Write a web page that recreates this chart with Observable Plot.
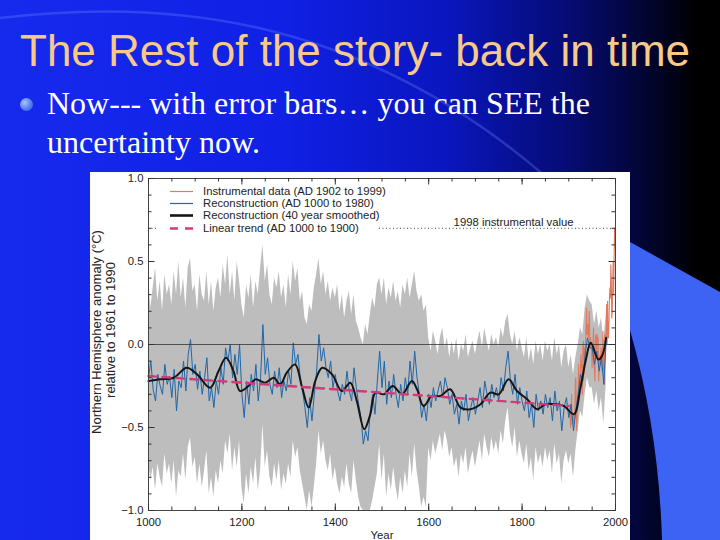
<!DOCTYPE html>
<html><head><meta charset="utf-8">
<script src="https://cdn.jsdelivr.net/npm/d3@7"></script>
<script src="https://cdn.jsdelivr.net/npm/@observablehq/plot@0.6"></script>
<style>
html,body{margin:0;padding:0;}
body{width:720px;height:540px;overflow:hidden;position:relative;
 background:linear-gradient(90deg,rgb(22,42,238) 0%,rgb(16,32,228) 40%,rgb(10,22,190) 62%,rgb(6,12,120) 78%,rgb(3,6,60) 88%,#000 97%);
 font-family:"Liberation Sans",Arial,sans-serif;}
#deco{position:absolute;left:0;top:0;}
#title{position:absolute;left:20px;top:29px;font-size:44px;line-height:44px;color:#f8ca8a;white-space:nowrap;}
#bullet{position:absolute;left:20px;top:98px;width:13px;height:13px;border-radius:50%;
 background:radial-gradient(circle at 35% 35%,#a8c2ff,#4f78f0 60%,#3358dc);}
#text{position:absolute;left:47px;top:84px;font-family:"Liberation Serif","Times New Roman",serif;font-size:32px;line-height:38.5px;color:#fff;white-space:nowrap;}
#panel{position:absolute;left:90px;top:172px;width:540px;height:368px;background:#fff;overflow:hidden;}
#legend{position:absolute;left:68px;top:13px;width:219px;height:50px;background:#fff;}
.row{position:absolute;left:0;height:12.2px;line-height:12.2px;font-size:11.3px;color:#222;white-space:nowrap;}
.row svg{position:absolute;left:12px;top:0;}
.row span{position:absolute;left:45px;top:0;}
.ytitle{position:absolute;width:240px;height:16px;line-height:16px;font-size:13px;color:#222;text-align:center;transform:rotate(-90deg);transform-origin:50% 50%;white-space:nowrap;}
</style></head>
<body>
<svg id="deco" width="720" height="540">
 <path d="M0,18 C150,0 350,8 545,176" fill="none" stroke="rgba(120,150,255,0.28)" stroke-width="2.5"/>
 <path d="M630,242 L720,292 L720,540 L662,540 C660,470 650,400 630,330 Z" fill="#3d63f5"/>
</svg>
<div id="title">The Rest of the story- back in time</div>
<div id="bullet"></div>
<div id="text">Now--- with error bars… you can SEE the<br>uncertainty now.</div>
<div id="panel">
 <div id="chart"></div>
 <div class="ytitle" style="left:-113px;top:152px;">Northern Hemisphere anomaly (°C)</div>
 <div class="ytitle" style="left:-99px;top:150px;">relative to 1961 to 1990</div>
 <div id="legend"></div>
</div>
<script>
// ---- data ----
const reconStart = 1000, reconStep = 5;
const reconValues = [
 -0.20,-0.10,-0.27,-0.34,-0.18,-0.25,-0.30,-0.12,-0.24,-0.19,
 -0.32,-0.15,-0.40,-0.22,-0.26,-0.10,-0.28,-0.06,0.03,-0.18,
 -0.12,-0.27,-0.16,-0.30,-0.20,-0.08,-0.34,-0.26,-0.38,-0.22,
 -0.30,-0.14,-0.24,-0.02,-0.10,0.00,-0.20,-0.06,-0.18,0.00,
 -0.30,-0.44,-0.22,-0.36,-0.18,-0.28,-0.12,-0.34,-0.20,0.12,
 -0.18,-0.08,-0.24,-0.30,-0.16,-0.26,-0.14,-0.32,-0.22,-0.28,
 -0.16,-0.24,0.01,-0.12,-0.06,-0.20,-0.28,-0.38,-0.50,-0.32,
 -0.46,-0.30,-0.16,0.06,-0.10,-0.02,-0.14,-0.20,-0.10,-0.26,
 -0.18,-0.28,-0.34,-0.24,-0.30,-0.16,-0.28,-0.34,-0.14,-0.26,
 -0.36,-0.44,-0.60,-0.52,-0.58,-0.40,-0.30,-0.42,-0.22,-0.04,
 -0.26,-0.10,-0.36,-0.22,-0.32,-0.18,-0.30,-0.38,-0.24,-0.34,
 -0.20,-0.30,-0.10,-0.24,-0.04,-0.20,-0.30,-0.44,-0.36,-0.46,
 -0.30,-0.38,-0.26,-0.34,-0.28,-0.22,-0.32,-0.20,-0.26,-0.36,
 -0.30,-0.42,-0.36,-0.48,-0.34,-0.40,-0.30,-0.46,-0.38,-0.32,
 -0.42,-0.34,-0.26,-0.38,-0.22,-0.30,-0.36,-0.24,-0.32,-0.26,
 -0.34,-0.20,-0.28,-0.14,-0.04,-0.22,-0.30,-0.18,-0.36,-0.26,
 -0.34,-0.40,-0.28,-0.44,-0.36,-0.50,-0.30,-0.40,-0.34,-0.42,
 -0.30,-0.38,-0.32,-0.46,-0.28,-0.40,-0.34,-0.52,-0.38,-0.32,
 -0.44,-0.36,-0.52,-0.40,-0.30,-0.18,-0.22,-0.06,0.04,-0.02,
 -0.02,-0.12,-0.04,-0.16,-0.08,-0.24,0.02
];
const bandStart = 1000, bandStep = 5;
const bandUpper = [
 0.40,0.22,0.34,0.46,0.26,0.38,0.20,0.42,0.30,0.36,
 0.24,0.44,0.30,0.50,0.28,0.40,0.22,0.46,0.52,0.32,
 0.36,0.20,0.42,0.30,0.26,0.44,0.24,0.38,0.20,0.34,
 0.40,0.28,0.48,0.36,0.54,0.30,0.44,0.26,0.50,0.38,
 0.24,0.16,0.36,0.28,0.42,0.22,0.38,0.30,0.46,0.60,
 0.38,0.48,0.30,0.24,0.40,0.34,0.44,0.28,0.36,0.22,
 0.42,0.30,0.50,0.38,0.46,0.26,0.32,0.16,0.12,0.24,
 0.20,0.34,0.42,0.52,0.36,0.44,0.30,0.38,0.26,0.34,
 0.28,0.36,0.20,0.30,0.16,0.26,0.32,0.18,0.30,0.14,
 0.10,0.04,0.00,0.12,0.06,0.18,0.28,0.22,0.36,0.40,
 0.30,0.40,0.24,0.34,0.28,0.38,0.26,0.32,0.22,0.36,
 0.30,0.40,0.28,0.36,0.44,0.32,0.26,0.30,0.20,0.24,
 0.04,-0.04,0.08,0.02,-0.06,0.04,0.10,-0.02,0.04,-0.08,
 0.02,-0.06,0.04,-0.10,0.00,-0.04,0.06,-0.08,-0.02,0.02,
 -0.06,0.02,0.08,-0.02,0.10,0.02,-0.04,0.06,0.00,0.04,
 -0.02,0.10,0.04,0.14,0.18,0.06,0.00,0.08,-0.04,0.04,
 -0.02,-0.08,0.04,-0.10,-0.02,-0.12,0.02,-0.06,0.00,-0.10,
 0.02,-0.04,0.00,-0.10,0.04,-0.06,0.00,-0.14,-0.04,0.00,
 -0.14,-0.06,-0.18,-0.08,0.00,0.10,0.06,0.22,0.30,0.26,
 0.24,0.12,0.20,0.10,0.16,0.02,0.18
];
const bandLower = [
 -0.70,-0.82,-0.74,-0.88,-0.72,-0.80,-0.86,-0.66,-0.78,-0.72,
 -0.84,-0.70,-0.92,-0.76,-0.80,-0.66,-0.82,-0.62,-0.56,-0.74,
 -0.68,-0.84,-0.72,-0.86,-0.76,-0.64,-0.90,-0.80,-0.92,-0.76,
 -0.84,-0.70,-0.78,-0.58,-0.66,-0.54,-0.76,-0.62,-0.74,-0.58,
 -0.86,-0.96,-0.78,-0.90,-0.74,-0.84,-0.68,-0.88,-0.76,-0.48,
 -0.74,-0.64,-0.80,-0.86,-0.72,-0.82,-0.70,-0.88,-0.78,-0.84,
 -0.72,-0.80,-0.58,-0.68,-0.62,-0.76,-0.84,-0.92,-1.00,-0.88,
 -0.98,-0.86,-0.72,-0.52,-0.66,-0.58,-0.70,-0.76,-0.66,-0.82,
 -0.74,-0.84,-0.90,-0.80,-0.86,-0.72,-0.84,-0.90,-0.70,-0.82,
 -0.92,-0.98,-1.00,-1.00,-1.00,-1.00,-0.94,-0.86,-0.78,-0.60,
 -0.82,-0.66,-0.92,-0.78,-0.88,-0.74,-0.86,-0.94,-0.80,-0.90,
 -0.76,-0.86,-0.66,-0.80,-0.60,-0.76,-0.86,-0.98,-0.92,-0.98,
 -0.62,-0.70,-0.58,-0.66,-0.60,-0.54,-0.64,-0.52,-0.58,-0.68,
 -0.62,-0.74,-0.68,-0.80,-0.66,-0.72,-0.62,-0.78,-0.70,-0.64,
 -0.74,-0.66,-0.58,-0.70,-0.54,-0.62,-0.68,-0.56,-0.64,-0.58,
 -0.66,-0.52,-0.60,-0.46,-0.38,-0.54,-0.62,-0.50,-0.68,-0.58,
 -0.66,-0.72,-0.60,-0.76,-0.68,-0.82,-0.62,-0.72,-0.66,-0.74,
 -0.62,-0.70,-0.64,-0.78,-0.60,-0.72,-0.66,-0.84,-0.70,-0.64,
 -0.72,-0.66,-0.80,-0.64,-0.52,-0.40,-0.44,-0.30,-0.20,-0.26,
 -0.26,-0.36,-0.28,-0.40,-0.32,-0.48,-0.24
];
const smoothYears = [1000,1025,1054,1082,1104,1132,1150,1166,1182,1196,1218,1229,1250,1268,1282,1296,1314,1329,1343,1357,1372,1393,1414,1432,1446,1462,1475,1486,1504,1523,1543,1564,1575,1589,1607,1625,1646,1668,1689,1711,1732,1750,1771,1789,1811,1832,1850,1871,1889,1911,1925,1936,1947,1963,1971,1980];
const smoothValues = [-0.22,-0.21,-0.20,-0.14,-0.18,-0.26,-0.16,-0.08,-0.16,-0.28,-0.24,-0.21,-0.23,-0.20,-0.24,-0.17,-0.12,-0.26,-0.38,-0.22,-0.14,-0.18,-0.28,-0.23,-0.34,-0.51,-0.42,-0.29,-0.30,-0.25,-0.30,-0.22,-0.27,-0.37,-0.31,-0.31,-0.27,-0.38,-0.39,-0.36,-0.29,-0.30,-0.21,-0.28,-0.33,-0.39,-0.36,-0.36,-0.37,-0.42,-0.26,-0.10,0.01,-0.09,-0.07,0.04];
const instrStart = 1902;
const instrValues = [
 -0.38,-0.45,-0.50,-0.40,-0.30,-0.48,-0.45,-0.46,-0.42,-0.48,
 -0.46,-0.40,-0.22,-0.20,-0.38,-0.52,-0.40,-0.30,-0.28,-0.12,
 -0.26,-0.22,-0.26,-0.14,-0.06,-0.14,-0.12,-0.30,-0.04,0.02,
 -0.02,-0.18,-0.02,-0.08,0.00,0.12,0.22,0.06,0.08,0.12,
 0.04,0.14,0.20,0.02,-0.02,0.04,-0.02,-0.04,-0.14,-0.02,
 0.02,0.10,-0.12,-0.16,-0.22,0.04,0.06,0.02,-0.04,0.06,
 0.00,0.04,-0.22,-0.16,-0.08,-0.06,-0.12,-0.02,-0.04,-0.16,
 -0.10,0.08,-0.16,-0.08,-0.24,0.06,-0.04,0.04,0.12,0.24,
 0.00,0.26,0.06,0.04,0.12,0.28,0.34,0.28,0.48,0.40,
 0.16,0.20,0.32,0.50,0.30,0.52,0.70,0.58
];
const trendYears = [1000, 1900];
const trendValues = [-0.19, -0.37];
const xMajorTicks = [1000,1200,1400,1600,1800,2000];
const xMinorTicks = [1000,1050,1100,1150,1200,1250,1300,1350,1400,1450,1500,1550,1600,1650,1700,1750,1800,1850,1900,1950,2000];
const yMajorTicks = [-1,-0.5,0,0.5,1];
const yMinorTicks = [-1,-0.9,-0.8,-0.7,-0.6,-0.5,-0.4,-0.3,-0.2,-0.1,0,0.1,0.2,0.3,0.4,0.5,0.6,0.7,0.8,0.9,1];
const legendLabels = ["Instrumental data (AD 1902 to 1999)","Reconstruction (AD 1000 to 1980)","Reconstruction (40 year smoothed)","Linear trend (AD 1000 to 1900)"];
const annotationLabel = "1998 instrumental value";

// ---- tables ----
const recon = reconValues.map((v,i)=>({year:reconStart+i*reconStep, v}));
const band = bandUpper.map((hi,i)=>({year:bandStart+i*bandStep, hi, lo:bandLower[i]}));
const smooth = smoothYears.map((y,i)=>({year:y, v:smoothValues[i]}));
const instr = instrValues.map((v,i)=>({year:instrStart+i, v}));
const trend = trendYears.map((y,i)=>({year:y, v:trendValues[i]}));
const v1998 = instr.find(d=>d.year===1998).v;

const colors = {instr:"#e07a5f", recon:"#1f66aa", smooth:"#151515", trend:"#d23a78"};

const W = 540, H = 368, mL = 58, mR = 15, mT = 6, mB = 30;
const plotW = W - mL - mR, plotH = H - mT - mB;
const minorLen = 3.5, majorLen = 6.5;
const tickStyle = {stroke:"#333", strokeWidth:1};

const chart = Plot.plot({
  width:W, height:H, marginLeft:mL, marginRight:mR, marginTop:mT, marginBottom:mB,
  style:{background:"transparent", fontFamily:"Liberation Sans, Arial, sans-serif", fontSize:"11.3px", color:"#222"},
  x:{domain:[1000,2000]},
  y:{domain:[-1,1]},
  marks:[
    Plot.areaY(band,{x:"year", y1:"lo", y2:"hi", fill:"#bdbdbd"}),
    Plot.lineY(instr,{x:"year", y:"v", stroke:colors.instr, strokeWidth:1.1}),
    Plot.lineY(recon,{x:"year", y:"v", stroke:colors.recon, strokeWidth:1}),
    Plot.ruleY([0],{stroke:"#333", strokeWidth:0.8}),
    Plot.lineY(smooth,{x:"year", y:"v", stroke:colors.smooth, strokeWidth:2, curve:"catmull-rom"}),
    Plot.lineY(trend,{x:"year", y:"v", stroke:colors.trend, strokeWidth:2.4, strokeDasharray:"8,6"}),
    Plot.ruleY([v1998],{stroke:"#444", strokeWidth:1, strokeDasharray:"1,2.5"}),
    Plot.text([{year:1998, v:v1998, label:annotationLabel}],{x:"year", y:"v", text:"label", textAnchor:"end", lineAnchor:"bottom", dx:-41, dy:-2, fontSize:11.3, fill:"#222"}),
    Plot.frame({stroke:"#444"}),
    // inward ticks
    Plot.tickX(xMinorTicks,{x:d=>d, insetTop:plotH-minorLen, ...tickStyle}),
    Plot.tickX(xMajorTicks,{x:d=>d, insetTop:plotH-majorLen, ...tickStyle}),
    Plot.tickX(xMinorTicks,{x:d=>d, insetBottom:plotH-minorLen, ...tickStyle}),
    Plot.tickX(xMajorTicks,{x:d=>d, insetBottom:plotH-majorLen, ...tickStyle}),
    Plot.tickY(yMinorTicks,{y:d=>d, insetRight:plotW-minorLen, ...tickStyle}),
    Plot.tickY(yMajorTicks,{y:d=>d, insetRight:plotW-majorLen, ...tickStyle}),
    Plot.tickY(yMinorTicks,{y:d=>d, insetLeft:plotW-minorLen, ...tickStyle}),
    Plot.tickY(yMajorTicks,{y:d=>d, insetLeft:plotW-majorLen, ...tickStyle}),
    // labels
    Plot.axisX(xMajorTicks,{anchor:"bottom", tickSize:0, tickPadding:7, tickFormat:"d", label:"Year", labelAnchor:"center", labelOffset:28, labelArrow:"none"}),
    Plot.axisY(yMajorTicks,{anchor:"left", tickSize:0, tickPadding:5, tickFormat:".1f", label:null})
  ]
});
document.getElementById("chart").appendChild(chart);

// legend
const swatches = [
  {stroke:colors.instr, w:1.2, dash:null},
  {stroke:colors.recon, w:1.2, dash:null},
  {stroke:colors.smooth, w:2.6, dash:null},
  {stroke:colors.trend, w:2.6, dash:"8,7"}
];
const legend = document.getElementById("legend");
legendLabels.forEach((lab,i)=>{
  const row = document.createElement("div");
  row.className = "row";
  row.style.top = (i*12.2) + "px";
  const s = swatches[i];
  row.innerHTML = `<svg width="24" height="12"><line x1="0" x2="23" y1="6.5" y2="6.5" stroke="${s.stroke}" stroke-width="${s.w}" ${s.dash?`stroke-dasharray="${s.dash}"`:""}/></svg><span>${lab}</span>`;
  legend.appendChild(row);
});
</script>
</body></html>
